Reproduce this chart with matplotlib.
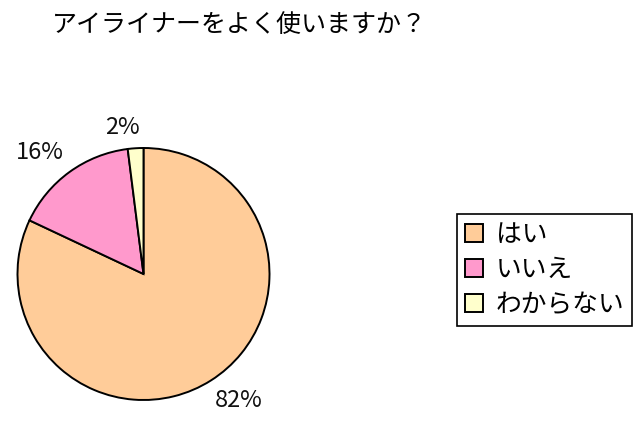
import matplotlib
matplotlib.use("Agg")
import matplotlib.pyplot as plt
import numpy as np

plt.rcParams['font.family'] = ['Noto Sans CJK JP', 'DejaVu Sans']

# survey answers and shares (%)
title = "アイライナーをよく使いますか？"
answers = ["はい", "いいえ", "わからない"]
shares = [82, 16, 2]
colors = ["#FFCC99", "#FF99CC", "#FFFFCC"]

W, H = 640, 446
fig = plt.figure(figsize=(W / 100, H / 100), dpi=100)

# pie axes placed in pixel terms: centre (143.5, 274), radius 126
cx, cy, r = 143.5, 274, 126
ax = fig.add_axes([(cx - r) / W, (H - cy - r) / H, 2 * r / W, 2 * r / H])
wedges, texts, autotexts = ax.pie(
    shares, colors=colors, startangle=90, counterclock=False,
    autopct='%1.0f%%', pctdistance=1.26,
    wedgeprops=dict(edgecolor="black", linewidth=1.4),
    textprops=dict(fontsize=17, color="#111111"))
ax.set_xlim(-1, 1)
ax.set_ylim(-1, 1)
ax.set_aspect("equal")
ax.axis("off")

# place the percent labels just outside the rim, Excel style
fig.canvas.draw()
for w, t in zip(wedges, autotexts):
    ang = np.deg2rad((w.theta1 + w.theta2) / 2 + 4.5)
    bb = t.get_window_extent()
    d = r + 11 + abs(np.cos(ang)) * bb.width / 2 + abs(np.sin(ang)) * 9
    t.set_position((d / r * np.cos(ang), d / r * np.sin(ang)))

fig.text(52 / W, 1 - 25 / H, title, fontsize=18, ha="left", va="center")

leg = fig.legend(wedges, answers, loc="upper left",
                 bbox_to_anchor=(457 / W, 1 - 214 / H),
                 fontsize=18.5, frameon=True, fancybox=False,
                 edgecolor="black", framealpha=1, borderpad=0.3,
                 handlelength=0.7, handleheight=0.7, handletextpad=0.5,
                 labelspacing=0.36, borderaxespad=0)
leg.get_frame().set_linewidth(1.2)

fig.savefig("out.png", dpi=100)
